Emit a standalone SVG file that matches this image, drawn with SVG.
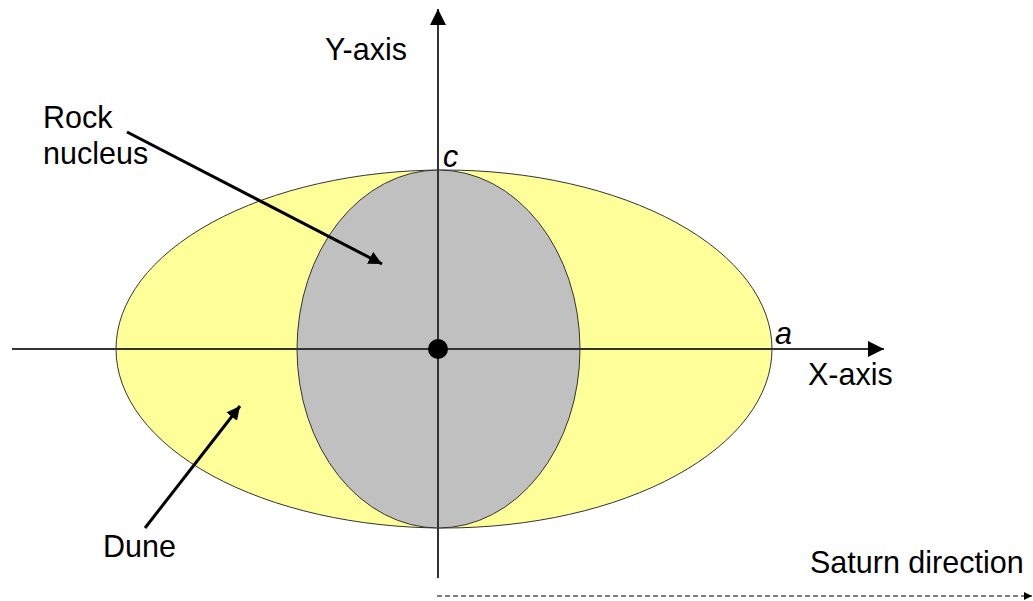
<svg xmlns="http://www.w3.org/2000/svg" width="1033" height="601" viewBox="0 0 1033 601">
<style>
text{font-family:"Liberation Sans",Arial,sans-serif;font-size:30.5px;fill:#000}
.it{font-style:italic}
.ax{stroke:#333;stroke-width:2;fill:none}
.ptr{stroke:#000;stroke-width:3;fill:none}
</style>
<defs>
<marker id="ah" viewBox="0 0 10 10" refX="10" refY="5" markerWidth="4.5" markerHeight="4.5" orient="auto" markerUnits="strokeWidth"><path d="M0,0L10,5L0,10z" fill="#000"/></marker>
<marker id="axh" viewBox="0 0 10 10" refX="10" refY="5" markerWidth="9" markerHeight="8" orient="auto" markerUnits="strokeWidth"><path d="M0,0L10,5L0,10z" fill="#000"/></marker>
<marker id="dh" viewBox="0 0 10 10" refX="10" refY="5" markerWidth="8" markerHeight="8" orient="auto" markerUnits="strokeWidth"><path d="M0,0L10,5L0,10z" fill="#000"/></marker>
</defs>
<g id="dune"><ellipse cx="444" cy="349" rx="328" ry="179" fill="#ffff99" stroke="#333" stroke-width="1"/></g>
<g id="nucleus"><ellipse cx="438.5" cy="349" rx="141.5" ry="179" fill="#c0c0c0" stroke="#333" stroke-width="1"/></g>
<g id="axes">
<line class="ax" x1="438" y1="578" x2="438" y2="9" marker-end="url(#axh)"/>
<line class="ax" x1="12" y1="349" x2="884" y2="349" marker-end="url(#axh)"/>
<circle cx="438" cy="349" r="10" fill="#000"/>
</g>
<g id="connectors">
<line class="ptr" x1="127" y1="132" x2="382" y2="264" marker-end="url(#ah)"/>
<line class="ptr" x1="145" y1="528" x2="240" y2="406" marker-end="url(#ah)"/>
<line x1="437" y1="596" x2="1032" y2="596" stroke="#000" stroke-width="1" stroke-dasharray="5,3" marker-end="url(#dh)"/>
</g>
<g id="labels">
<text x="325" y="60">Y-axis</text>
<text x="43" y="128">Rock</text>
<text x="43" y="164">nucleus</text>
<text class="it" x="443" y="167">c</text>
<text class="it" x="775" y="344">a</text>
<text x="808" y="385">X-axis</text>
<text x="103" y="557">Dune</text>
<text x="810" y="573">Saturn direction</text>
</g>
</svg>
